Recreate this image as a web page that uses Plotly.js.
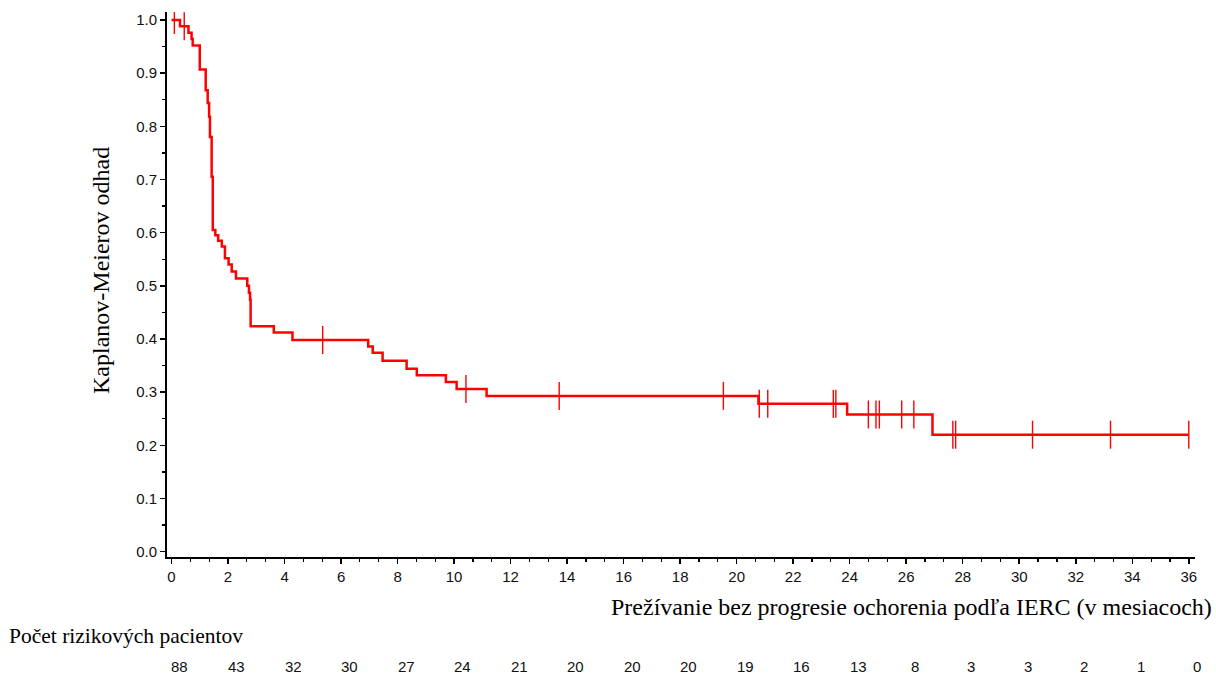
<!DOCTYPE html>
<html>
<head>
<meta charset="utf-8">
<script src="https://cdn.plot.ly/plotly-3.0.1.min.js"></script>
<style>html,body{margin:0;padding:0;background:#fff;}#chart{width:1216px;height:675px;}</style>
</head>
<body>
<div id="chart"></div>
<script>
// Kaplan-Meier step points (time in months, survival estimate after the step)
var stepTimes = [0, 0.3, 0.6, 0.71, 0.75, 1.0, 1.21, 1.28, 1.33, 1.36, 1.42, 1.46, 1.55, 1.65, 1.78, 1.89, 2.02, 2.13, 2.28, 2.68, 2.74, 2.78, 2.8, 3.62, 4.28, 6.96, 7.12, 7.47, 8.32, 8.68, 9.71, 10.09, 11.15, 20.77, 23.91, 26.93, 36.0];
var stepSurv  = [1.0, 0.988, 0.976, 0.964, 0.952, 0.907, 0.868, 0.844, 0.818, 0.78, 0.705, 0.605, 0.595, 0.585, 0.574, 0.552, 0.54, 0.527, 0.514, 0.50, 0.487, 0.474, 0.424, 0.412, 0.398, 0.386, 0.374, 0.359, 0.344, 0.332, 0.319, 0.306, 0.293, 0.278, 0.258, 0.22, 0.22];
// Censored observations (months)
var censorTimes = [0.1, 0.45, 5.35, 10.42, 13.72, 19.53, 20.8, 21.1, 23.42, 23.51, 24.66, 24.93, 25.05, 25.84, 26.27, 27.65, 27.75, 30.47, 33.23, 36.0];
// Number at risk
var riskTimes = [0, 2, 4, 6, 8, 10, 12, 14, 16, 18, 20, 22, 24, 26, 28, 30, 32, 34, 36];
var riskCounts = [88, 43, 32, 30, 27, 24, 21, 20, 20, 20, 19, 16, 13, 8, 3, 3, 2, 1, 0];

var xTitle = 'Prežívanie bez progresie ochorenia podľa IERC (v mesiacoch)';
var yTitle = 'Kaplanov-Meierov odhad';
var riskTitle = 'Počet rizikových pacientov';

function survAt(t) {
  var s = stepSurv[0];
  for (var i = 0; i < stepTimes.length; i++) { if (stepTimes[i] <= t) s = stepSurv[i]; }
  return s;
}
var censorSurv = censorTimes.map(survAt);

var L = 167, R = 21, T = 12, B = 118, W = 1216, H = 675;
var pw = W - L - R, ph = H - T - B;
var xRange = [-0.16, 36.22], yRange = [-0.01, 1.015];
function px2paperX(p) { return (p - L) / pw; }
function px2paperY(p) { return (H - B - p) / ph; }
function data2paperX(v) { return (v - xRange[0]) / (xRange[1] - xRange[0]); }

var traces = [
  {x: stepTimes, y: stepSurv, type: 'scatter', mode: 'lines', line: {shape: 'hv', color: '#ff0000', width: 2.5}, hoverinfo: 'skip'},
  {x: censorTimes, y: censorSurv, type: 'scatter', mode: 'markers', marker: {symbol: 'line-ns-open', size: 20, color: '#ff0000', line: {color: '#ff0000', width: 1.4}}, hoverinfo: 'skip'}
];

var sansFont = 'Liberation Sans, Arial, sans-serif';
var serifFont = 'Liberation Serif, Times New Roman, serif';
var annotations = [];
for (var i = 0; i < riskTimes.length; i++) {
  annotations.push({x: data2paperX(riskTimes[i] + 0.3), xref: 'paper', y: px2paperY(666), yref: 'paper', text: String(riskCounts[i]), showarrow: false, xanchor: 'center', yanchor: 'middle', font: {family: sansFont, size: 15, color: '#111'}});
}
annotations.push({x: px2paperX(1214), xref: 'paper', y: px2paperY(607), yref: 'paper', text: xTitle, showarrow: false, xanchor: 'right', yanchor: 'middle', font: {family: serifFont, size: 24, color: '#000'}});
annotations.push({x: px2paperX(101), xref: 'paper', y: px2paperY(271), yref: 'paper', text: yTitle, showarrow: false, textangle: -90, xanchor: 'center', yanchor: 'middle', font: {family: serifFont, size: 24, color: '#000'}});
annotations.push({x: px2paperX(7), xref: 'paper', y: px2paperY(636), yref: 'paper', text: riskTitle, showarrow: false, xanchor: 'left', yanchor: 'middle', font: {family: serifFont, size: 21.5, color: '#000'}});

var layout = {
  width: W, height: H,
  margin: {l: L, r: R, t: T, b: B, pad: 0},
  paper_bgcolor: '#fff', plot_bgcolor: '#fff',
  showlegend: false,
  xaxis: {
    range: xRange, showgrid: false, zeroline: false,
    showline: true, linecolor: '#000', linewidth: 2,
    ticks: 'outside', ticklen: 5, tickwidth: 1.5, tickcolor: '#000',
    tick0: 0, dtick: 2,
    minor: {ticks: 'outside', ticklen: 3, tickwidth: 1.2, tickcolor: '#000', tick0: 0, dtick: 2/3, showgrid: false},
    tickfont: {family: sansFont, size: 15, color: '#111'}
  },
  yaxis: {
    range: yRange, showgrid: false, zeroline: false,
    showline: true, linecolor: '#000', linewidth: 2,
    ticks: 'outside', ticklen: 5, tickwidth: 1.5, tickcolor: '#000',
    tick0: 0, dtick: 0.1, tickformat: '.1f',
    minor: {ticks: 'outside', ticklen: 3, tickwidth: 1.2, tickcolor: '#000', tick0: 0, dtick: 0.05, showgrid: false},
    tickfont: {family: sansFont, size: 15, color: '#111'}
  },
  annotations: annotations
};

Plotly.newPlot('chart', traces, layout, {displayModeBar: false, staticPlot: true});
</script>
</body>
</html>
